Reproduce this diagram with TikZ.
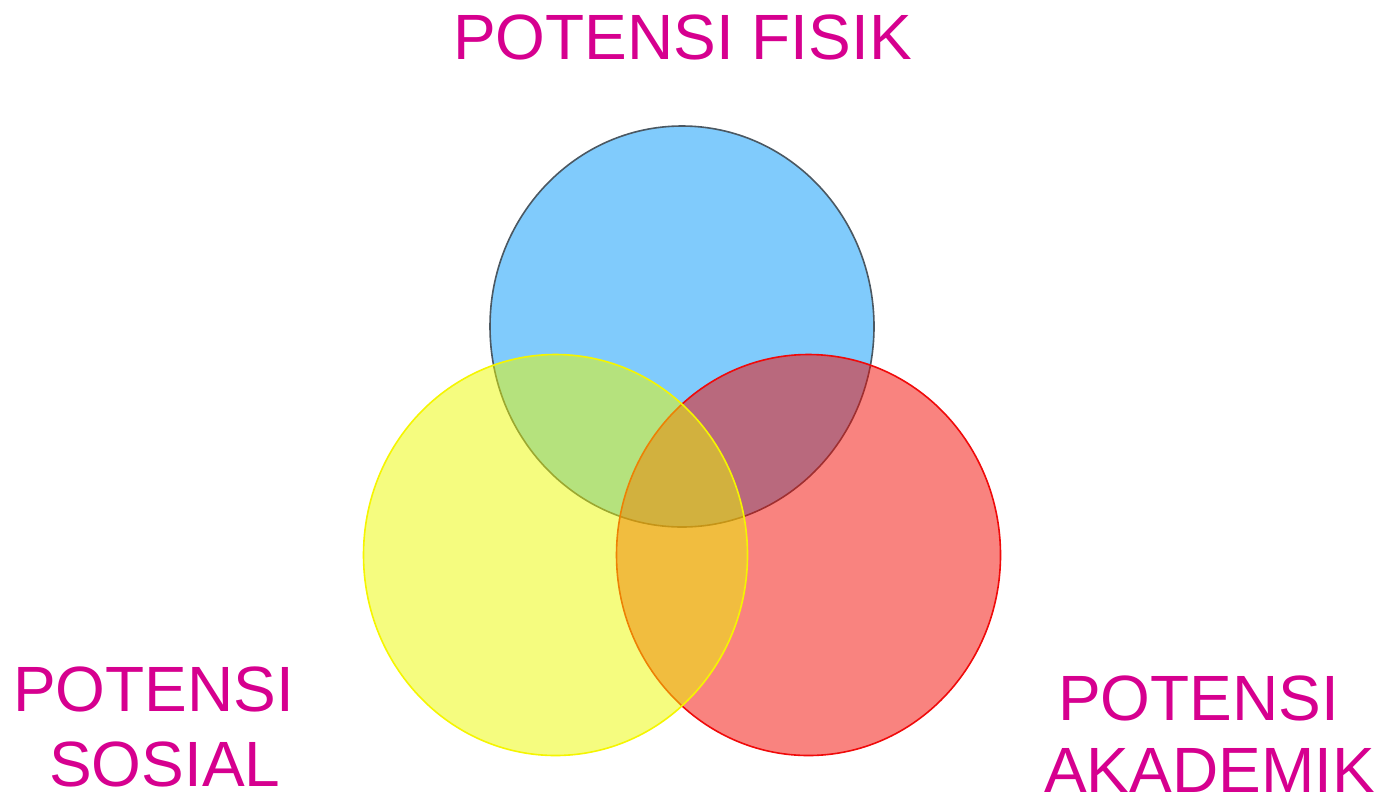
\documentclass[tikz,border=0pt]{standalone}
\usepackage{fontspec}
\setmainfont{Liberation Sans}
\usetikzlibrary{shapes.geometric}
\definecolor{lblfg}{RGB}{214,0,143}
\definecolor{bluefill}{RGB}{128,203,252}
\definecolor{blueline}{RGB}{75,88,98}
\definecolor{redfill}{RGB}{243,8,0}
\definecolor{redline}{RGB}{240,10,10}
\definecolor{yelfill}{RGB}{235,249,0}
\definecolor{yelline}{RGB}{245,245,0}
\tikzset{
  venn/.style={ellipse, inner sep=0pt, minimum width=384pt, minimum height=401pt, line width=1.6pt},
  lbl/.style={inner sep=0pt, anchor=base west, text=lblfg, font=\fontsize{64}{75}\selectfont}
}
\begin{document}
\begin{tikzpicture}[x=1pt,y=-1pt]
\useasboundingbox (0,0) rectangle (1383,796);
\node[venn, fill=bluefill, draw=blueline] (fisik) at (682,326.5) {};
\node[venn, fill=redfill, fill opacity=0.5, draw=redline, draw opacity=1] (akademik) at (808.5,555) {};
\node[venn, fill=yelfill, fill opacity=0.5, draw=yelline, draw opacity=1] (sosial) at (555.5,555) {};
\node[lbl] (tfisik) at (453,59.5) {POTENSI FISIK};
\node[lbl] (tsos1) at (13,711) {POTENSI};
\node[lbl] (tsos2) at (49,786) {SOSIAL};
\node[lbl] (taka1) at (1058,720) {POTENSI};
\node[lbl] (taka2) at (1044,792) {AKADEMIK};
\end{tikzpicture}
\end{document}
